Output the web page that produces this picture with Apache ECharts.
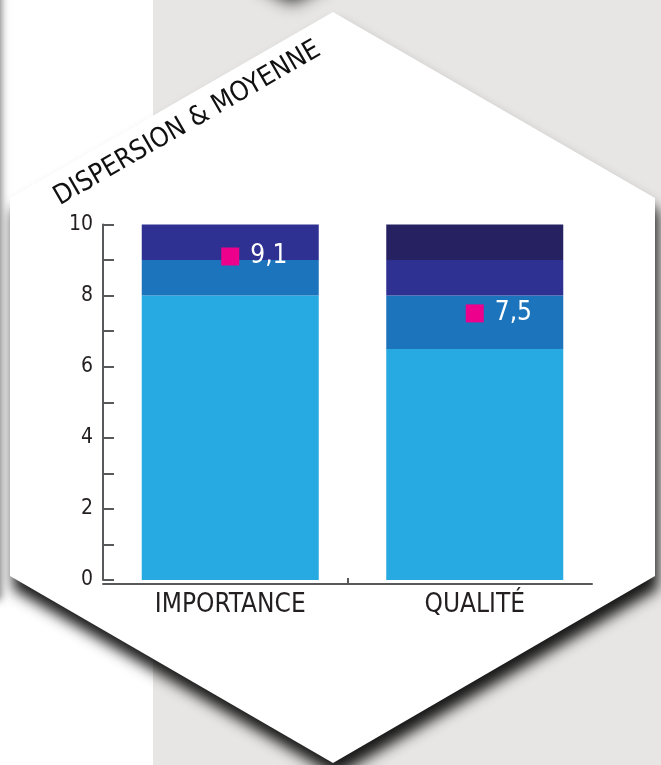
<!DOCTYPE html>
<html>
<head>
<meta charset="utf-8">
<script src="https://cdn.jsdelivr.net/npm/echarts@6/dist/echarts.min.js"></script>
<style>
  html, body { margin: 0; padding: 0; background: #ffffff; }
  #chart { width: 661px; height: 765px; }
</style>
</head>
<body>
<div id="chart"></div>
<script>
// Categories and stacked score bands (bottom to top)
const categories = ['IMPORTANCE', 'QUALITÉ'];
const bandLow = [8, 6.5];
const bandMid = [1, 1.5];
const bandHigh = [1, 1];
const bandTop = [0, 1];
// Mean score of each category
const means = [9.1, 7.5];
// Y axis tick values
const yTicks = [0, 2, 4, 6, 8, 10];
const titleText = 'DISPERSION & MOYENNE';

const FONT = '"Liberation Sans Narrow", "DejaVu Sans Condensed", "Liberation Sans", sans-serif';
const AXIS_COLOR = '#58595b';
const TEXT_COLOR = '#231f20';
const bandColors = ['#27a9e1', '#1c75bc', '#2e3192', '#262262'];
const bands = [bandLow, bandMid, bandHigh, bandTop];

const chart = echarts.init(document.getElementById('chart'), null, { renderer: 'canvas' });

const hexagon = [[333, 12], [655, 198], [655, 576], [333, 763], [10, 576], [10, 198]];

const option = {
  backgroundColor: '#ffffff',
  animation: false,
  graphic: [
    { type: 'rect', z: -40, silent: true,
      shape: { x: 153, y: 0, width: 520, height: 765 },
      style: { fill: '#e7e6e4' } },
    // shadow cast from the panel on the left
    { type: 'rect', z: -35, silent: true,
      shape: { x: -40, y: -20, width: 38, height: 620 },
      style: { fill: '#ffffff', shadowBlur: 8, shadowOffsetX: 3, shadowColor: 'rgba(0,0,0,0.55)' } },
    // shadow of the hexagon above
    { type: 'polygon', z: -30, silent: true,
      shape: { points: [[292, -10], [600, -188], [-16, -188]] },
      style: { fill: '#e7e6e4', shadowBlur: 18, shadowOffsetY: 12, shadowColor: 'rgba(0,0,0,1)' } },
    // white hexagon panel
    { type: 'polygon', z: -20, silent: true,
      shape: { points: hexagon },
      style: { fill: '#ffffff', shadowBlur: 14, shadowOffsetX: 3, shadowOffsetY: 13, shadowColor: 'rgba(0,0,0,0.9)' } },
    { type: 'text', z: 10, silent: true,
      x: 63, y: 211, rotation: Math.PI / 6,
      style: { text: titleText, fontSize: 27, fontFamily: FONT, fill: '#111111',
               align: 'left', verticalAlign: 'bottom' } }
  ],
  grid: [
    { left: 108, right: 64, top: 224.5, bottom: 185, outerBoundsMode: 'none' },
    { left: 103, right: 69, top: 224.5, bottom: 181, outerBoundsMode: 'none' }
  ],
  xAxis: [
    { type: 'category', gridIndex: 0, data: categories,
      axisLine: { show: false }, axisTick: { show: false },
      axisLabel: { color: TEXT_COLOR, fontSize: 26, fontFamily: FONT, margin: 12 } },
    { type: 'value', gridIndex: 1, min: 0, max: 2,
      axisLine: { show: true, lineStyle: { color: AXIS_COLOR, width: 2 } },
      axisTick: { show: true, inside: true, length: 6, customValues: [1],
                  lineStyle: { color: AXIS_COLOR, width: 2 } },
      axisLabel: { show: false }, splitLine: { show: false } }
  ],
  yAxis: [
    { type: 'value', gridIndex: 0, min: yTicks[0], max: yTicks[yTicks.length - 1],
      interval: yTicks[1] - yTicks[0], offset: 5,
      axisLine: { show: true, lineStyle: { color: AXIS_COLOR, width: 2 } },
      axisTick: { show: true, inside: true, length: 11, lineStyle: { color: AXIS_COLOR, width: 2 } },
      minorTick: { show: true, splitNumber: 2, length: 11, lineStyle: { color: AXIS_COLOR, width: 2 } },
      splitLine: { show: false }, minorSplitLine: { show: false },
      axisLabel: { color: TEXT_COLOR, fontSize: 21, fontFamily: FONT, margin: 10 } },
    { type: 'value', gridIndex: 1, show: false, min: 0, max: 10 }
  ],
  series: bands.map((d, i) => ({
    type: 'bar', stack: 'score', data: d, barWidth: 177,
    xAxisIndex: 0, yAxisIndex: 0, silent: true,
    itemStyle: { color: bandColors[i] }
  })).concat([{
    type: 'scatter', data: means, xAxisIndex: 0, yAxisIndex: 0,
    symbol: 'rect', symbolSize: 18, z: 5, silent: true,
    itemStyle: { color: '#ec008c', opacity: 1 },
    label: { show: true, position: 'right', distance: 11, color: '#ffffff',
             fontSize: 26, fontFamily: FONT, opacity: 1,
             formatter: p => String(p.value).replace('.', ',') }
  }])
};

chart.setOption(option);
</script>
</body>
</html>
